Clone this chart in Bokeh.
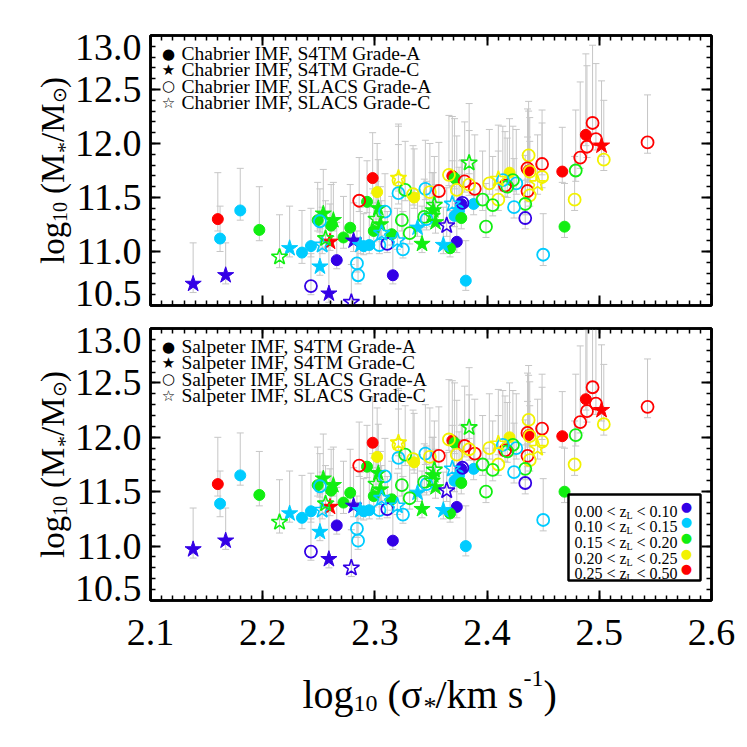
import math
from bokeh.plotting import figure
from bokeh.models import (ColumnDataSource, Range1d, LinearAxis, Label, BoxAnnotation,
                          SingleIntervalTicker, CustomJSTickFormatter)
from bokeh.layouts import column, row
from bokeh.embed import file_html
from bokeh.resources import INLINE

# ---------------- data ----------------
log_sigma = [2.138, 2.167, 2.160, 2.162, 2.180, 2.197, 2.215, 2.224, 2.235, 2.243,
             2.251, 2.243, 2.249, 2.251, 2.254, 2.253, 2.256, 2.263, 2.261, 2.260,
             2.259, 2.266, 2.272, 2.278, 2.279, 2.284, 2.285, 2.281, 2.287, 2.295,
             2.290, 2.298, 2.286, 2.293, 2.302, 2.303, 2.299, 2.301, 2.305, 2.304,
             2.309, 2.306, 2.311, 2.321, 2.321, 2.321, 2.327, 2.334, 2.324, 2.316,
             2.320, 2.315, 2.325, 2.338, 2.342, 2.345, 2.344, 2.346, 2.349, 2.357,
             2.352, 2.354, 2.543, 2.494, 2.488, 2.497, 2.502, 2.489, 2.483, 2.504,
             2.479, 2.467, 2.478, 2.469, 2.450, 2.449, 2.449, 2.445, 2.437, 2.437,
             2.436, 2.438, 2.436, 2.438, 2.434, 2.434, 2.424, 2.426, 2.423, 2.416,
             2.420, 2.418, 2.414, 2.410, 2.402, 2.410, 2.405, 2.396, 2.399, 2.384,
             2.380, 2.389, 2.384, 2.373, 2.369, 2.371, 2.366, 2.378, 2.377, 2.388,
             2.369, 2.371, 2.375, 2.377, 2.364, 2.373, 2.367, 2.361, 2.381, 2.353,
             2.351, 2.335, 2.331]

log_mstar_chabrier = [10.70, 10.78, 11.30, 11.12, 11.38, 11.20, 10.95, 11.03, 10.99, 11.05,
                      10.86, 10.68, 11.29, 11.28, 11.35, 11.06, 11.12, 11.29, 11.24, 11.09,
                      10.61, 10.92, 11.13, 11.22, 10.53, 10.89, 10.78, 11.10, 11.06, 11.06,
                      11.05, 11.68, 11.47, 11.46, 11.55, 11.40, 11.19, 11.30, 11.25, 11.06,
                      11.37, 11.17, 11.07, 11.66, 11.68, 11.54, 11.57, 11.53, 11.29, 10.78,
                      11.10, 11.16, 11.02, 11.22, 11.07, 11.58, 11.32, 11.30, 11.55, 11.56,
                      11.38, 11.27, 12.01, 12.19, 12.08, 12.04, 11.98, 11.97, 11.87, 11.85,
                      11.75, 11.74, 11.48, 11.23, 10.97, 11.81, 11.69, 11.63, 11.89, 11.75,
                      11.77, 11.74, 11.56, 11.52, 11.31, 11.44, 11.41, 11.63, 11.66, 11.61,
                      11.73, 11.60, 11.66, 11.67, 11.63, 11.48, 11.43, 11.48, 11.23, 11.82,
                      11.65, 11.58, 11.62, 11.57, 11.70, 11.68, 11.71, 11.45, 11.44, 11.44,
                      11.44, 11.33, 11.38, 11.31, 11.24, 11.09, 11.03, 11.06, 10.73, 11.43,
                      11.33, 11.50, 11.17]

log_mstar_salpeter = [10.97, 11.05, 11.57, 11.39, 11.65, 11.47, 11.22, 11.30, 11.26, 11.32,
                      11.13, 10.95, 11.56, 11.55, 11.62, 11.33, 11.39, 11.56, 11.51, 11.36,
                      10.88, 11.19, 11.40, 11.49, 10.80, 11.16, 11.05, 11.37, 11.33, 11.33,
                      11.32, 11.95, 11.74, 11.73, 11.82, 11.67, 11.46, 11.57, 11.52, 11.33,
                      11.64, 11.44, 11.34, 11.93, 11.95, 11.81, 11.84, 11.80, 11.56, 11.05,
                      11.37, 11.43, 11.29, 11.49, 11.34, 11.85, 11.59, 11.57, 11.82, 11.83,
                      11.65, 11.54, 12.28, 12.46, 12.35, 12.31, 12.25, 12.24, 12.14, 12.12,
                      12.02, 12.01, 11.75, 11.50, 11.24, 12.08, 11.96, 11.90, 12.16, 12.02,
                      12.04, 12.01, 11.83, 11.79, 11.58, 11.71, 11.68, 11.90, 11.93, 11.88,
                      12.00, 11.87, 11.93, 11.94, 11.90, 11.75, 11.70, 11.75, 11.50, 12.09,
                      11.92, 11.85, 11.89, 11.84, 11.97, 11.95, 11.98, 11.72, 11.71, 11.71,
                      11.71, 11.60, 11.65, 11.58, 11.51, 11.36, 11.30, 11.33, 11.00, 11.70,
                      11.60, 11.77, 11.44]

err_up = [0.38, 0.30, 0.43, 0.30, 0.39, 0.40, 0.39, 0.39, 0.39, 0.35,
          0.35, 0.30, 0.35, 0.30, 0.41, 0.35, 0.35, 0.35, 0.38, 0.35,
          0.45, 0.35, 0.38, 0.40, 0.35, 0.30, 0.35, 0.35, 0.35, 0.35,
          0.30, 0.42, 0.40, 0.38, 0.45, 0.45, 0.35, 0.35, 0.35, 0.35,
          0.35, 0.30, 0.30, 0.50, 0.50, 0.45, 0.45, 0.45, 0.35, 0.35,
          0.30, 0.35, 0.35, 0.35, 0.35, 0.45, 0.35, 0.35, 0.45, 0.45,
          0.35, 0.35, 0.44, 0.72, 0.75, 0.70, 0.60, 0.75, 0.70, 0.55,
          0.56, 0.41, 0.40, 0.40, 0.38, 0.50, 0.50, 0.45, 0.50, 0.55,
          0.55, 0.50, 0.50, 0.50, 0.35, 0.45, 0.45, 0.50, 0.50, 0.50,
          0.50, 0.45, 0.50, 0.50, 0.50, 0.45, 0.45, 0.45, 0.40, 0.55,
          0.55, 0.50, 0.50, 0.50, 0.55, 0.55, 0.55, 0.40, 0.40, 0.40,
          0.40, 0.40, 0.40, 0.40, 0.35, 0.35, 0.35, 0.35, 0.37, 0.45,
          0.40, 0.45, 0.35]

err_down = [0.08, 0.08, 0.11, 0.12, 0.09, 0.10, 0.10, 0.08, 0.10, 0.10,
            0.08, 0.08, 0.10, 0.10, 0.10, 0.08, 0.08, 0.10, 0.10, 0.08,
            0.08, 0.08, 0.10, 0.10, 0.08, 0.08, 0.08, 0.10, 0.08, 0.08,
            0.08, 0.10, 0.10, 0.10, 0.10, 0.10, 0.10, 0.10, 0.10, 0.08,
            0.10, 0.08, 0.08, 0.10, 0.10, 0.10, 0.10, 0.10, 0.10, 0.08,
            0.08, 0.10, 0.08, 0.08, 0.08, 0.10, 0.10, 0.10, 0.10, 0.10,
            0.10, 0.10, 0.10, 0.10, 0.10, 0.10, 0.10, 0.10, 0.10, 0.10,
            0.10, 0.10, 0.10, 0.10, 0.10, 0.10, 0.10, 0.10, 0.10, 0.10,
            0.10, 0.10, 0.10, 0.10, 0.10, 0.10, 0.10, 0.10, 0.10, 0.10,
            0.10, 0.10, 0.10, 0.10, 0.10, 0.10, 0.10, 0.10, 0.10, 0.10,
            0.10, 0.10, 0.10, 0.10, 0.10, 0.10, 0.10, 0.10, 0.10, 0.10,
            0.10, 0.10, 0.10, 0.10, 0.10, 0.10, 0.08, 0.08, 0.09, 0.10,
            0.10, 0.10, 0.10]

# redshift bin index (0..4)
z_bin = [0, 0, 4, 1, 1, 2, 2, 1, 1, 1,
         1, 0, 2, 1, 2, 1, 2, 2, 2, 4,
         0, 0, 2, 2, 0, 1, 1, 0, 1, 1,
         1, 4, 4, 2, 3, 2, 2, 2, 2, 1,
         1, 1, 0, 3, 3, 1, 2, 3, 2, 0,
         1, 2, 1, 1, 2, 1, 2, 1, 3, 4,
         2, 2, 4, 4, 4, 4, 4, 4, 4, 3,
         2, 4, 3, 2, 1, 4, 3, 3, 3, 4,
         4, 3, 4, 3, 0, 2, 1, 1, 2, 4,
         3, 2, 1, 3, 3, 3, 2, 2, 2, 2,
         4, 4, 3, 3, 4, 2, 3, 0, 0, 1,
         1, 1, 1, 2, 0, 0, 2, 1, 1, 2,
         2, 3, 2]

# lens sample: A = S4TM Grade-A, C = S4TM Grade-C, a = SLACS Grade-A, c = SLACS Grade-C
sample = ["C", "C", "A", "A", "A", "A", "c", "C", "A", "A",
          "C", "a", "A", "a", "C", "c", "c", "C", "A", "C",
          "C", "A", "A", "A", "c", "a", "a", "C", "C", "A",
          "A", "A", "a", "A", "A", "C", "A", "c", "C", "a",
          "a", "c", "a", "a", "c", "a", "a", "a", "a", "A",
          "c", "A", "a", "C", "C", "a", "a", "a", "a", "a",
          "C", "C", "a", "a", "A", "a", "C", "a", "a", "a",
          "a", "A", "a", "A", "a", "a", "a", "c", "a", "A",
          "a", "a", "a", "a", "a", "a", "a", "a", "a", "a",
          "A", "a", "a", "c", "a", "a", "a", "a", "a", "c",
          "a", "a", "a", "a", "A", "A", "a", "a", "A", "A",
          "c", "A", "A", "A", "c", "A", "A", "C", "A", "c",
          "c", "A", "a"]

x_ticks = [2.1, 2.2, 2.3, 2.4, 2.5, 2.6]
y_ticks = [10.5, 11.0, 11.5, 12.0, 12.5, 13.0]
x_lim = (2.1, 2.6)
y_lim = (10.5, 13.0)
z_edges = ["0.00", "0.10", "0.15", "0.20", "0.25", "0.50"]
z_colors = ["#3300e6", "#00ccff", "#11ee11", "#f2f200", "#ff0000"]
sample_labels = ["S4TM Grade-A", "S4TM Grade-C", "SLACS Grade-A", "SLACS Grade-C"]
sample_codes = ["A", "C", "a", "c"]
legend_symbols = ["\u25CF", "\u2605", "\u25CB", "\u2606"]

SERIF = "Liberation Serif"
SYMF = "DejaVu Sans"

# ---------------- geometry (pixels) ----------------
FRAME_W = 561
LEFT_W = 142          # width of the left strip holding y labels / titles
P1 = dict(top=35, frame=270, bottom=10)
P2 = dict(top=13, frame=272, bottom=8)
H1 = P1["top"] + P1["frame"] + P1["bottom"]
H2 = P2["top"] + P2["frame"] + P2["bottom"]
PANEL_W = 8 + FRAME_W + 27
XFIG_H = 112


def style_axis(ax):
    ax.major_tick_in = 10
    ax.major_tick_out = 0
    ax.minor_tick_in = 5
    ax.minor_tick_out = 0
    ax.axis_line_width = 2.5
    ax.axis_line_color = "black"
    ax.major_tick_line_width = 2
    ax.minor_tick_line_width = 1.5
    ax.major_tick_line_color = "black"
    ax.minor_tick_line_color = "black"
    ax.major_label_text_font_size = "4px"
    ax.major_label_standoff = 0


def add_text(p, x, y, text, size, font=SERIF, angle=0.0, color="black",
             align="left", baseline="alphabetic"):
    p.add_layout(Label(x=x, y=y, x_units="screen", y_units="screen", text=text,
                       text_font=font, text_font_size=f"{size}px", text_color=color,
                       angle=angle, text_align=align, text_baseline=baseline))


def blank_fig(w, h):
    f = figure(width=w, height=h, x_range=Range1d(0, 1), y_range=Range1d(0, 1),
               output_backend="svg", toolbar_location=None, min_border=0,
               x_axis_type=None, y_axis_type=None)
    f.grid.visible = False
    f.outline_line_color = None
    f.background_fill_color = "white"
    f.border_fill_color = "white"
    return f


def make_panel(mass, imf, geo):
    p = figure(frame_width=FRAME_W, frame_height=geo["frame"],
               x_range=Range1d(*x_lim), y_range=Range1d(*y_lim),
               output_backend="svg", toolbar_location=None,
               min_border_left=8, min_border_right=27,
               min_border_top=geo["top"], min_border_bottom=geo["bottom"],
               x_axis_type=None, y_axis_type=None)
    p.grid.visible = False
    p.outline_line_color = "black"
    p.outline_line_width = 2.5
    p.background_fill_color = "white"
    p.border_fill_color = "white"

    blank = CustomJSTickFormatter(code="return ''")
    for loc in ["below", "above"]:
        ax = LinearAxis(ticker=SingleIntervalTicker(interval=0.1, num_minor_ticks=10),
                        formatter=blank)
        style_axis(ax)
        p.add_layout(ax, loc)
    for loc in ["left", "right"]:
        ax = LinearAxis(ticker=SingleIntervalTicker(interval=0.5, num_minor_ticks=5),
                        formatter=blank)
        style_axis(ax)
        p.add_layout(ax, loc)

    # error bars
    hi = [m + e for m, e in zip(mass, err_up)]
    lo = [m - e for m, e in zip(mass, err_down)]
    esrc = ColumnDataSource(dict(x=log_sigma, hi=hi, lo=lo))
    p.segment(x0="x", y0="lo", x1="x", y1="hi", source=esrc, line_color="#c6c6c6", line_width=1)
    p.scatter(x="x", y="hi", source=esrc, marker="dash", size=7, line_color="#c6c6c6", line_width=1)
    p.scatter(x="x", y="lo", source=esrc, marker="dash", size=7, line_color="#c6c6c6", line_width=1)

    # points per sample
    for code in sample_codes:
        idx = [i for i, s in enumerate(sample) if s == code]
        src = ColumnDataSource(dict(x=[log_sigma[i] for i in idx],
                                    y=[mass[i] for i in idx],
                                    c=[z_colors[z_bin[i]] for i in idx]))
        if code == "A":
            p.scatter(x="x", y="y", source=src, marker="circle", size=11,
                      fill_color="c", line_color="c")
        elif code == "C":
            p.scatter(x="x", y="y", source=src, marker="star", size=17,
                      fill_color="c", line_color="c")
        elif code == "a":
            p.scatter(x="x", y="y", source=src, marker="circle", size=12,
                      fill_color=None, line_color="c", line_width=1.8)
        else:
            p.scatter(x="x", y="y", source=src, marker="star", size=17,
                      fill_color=None, line_color="c", line_width=1.6)

    # sample legend (top-left, inside frame)
    for k, (sym, lab) in enumerate(zip(legend_symbols, sample_labels)):
        yc = geo["frame"] - 18 - 16.4 * k
        add_text(p, 18, yc, sym, 15, font=SYMF, align="center", baseline="middle")
        add_text(p, 31, yc, f"{imf} IMF, {lab}", 19.5, baseline="middle")
    return p


p1 = make_panel(log_mstar_chabrier, "Chabrier", P1)
p2 = make_panel(log_mstar_salpeter, "Salpeter", P2)

# redshift legend box (bottom panel)
p2.add_layout(BoxAnnotation(left=418, right=550, bottom=20, top=106,
                            left_units="screen", right_units="screen",
                            bottom_units="screen", top_units="screen",
                            fill_color="white", fill_alpha=1.0,
                            line_color="black", line_alpha=1.0, line_width=2.5))
for k in range(5):
    yb = 89.3 - 15.6 * k
    add_text(p2, 424, yb, f"{z_edges[k]} < z", 16)
    add_text(p2, 476, yb - 4, "L", 10)
    add_text(p2, 486, yb, f"< {z_edges[k + 1]}", 16)
    add_text(p2, 536, yb + 5, "\u25CF", 13, font=SYMF, color=z_colors[k],
             align="center", baseline="middle")

# ---------------- left strip: y tick labels and y titles ----------------
yfig = blank_fig(LEFT_W, H1 + H2)
FH = H1 + H2
panels_y = [(P1["top"], P1["frame"]), (H1 + P2["top"], P2["frame"])]
for top_px, fh in panels_y:
    for v in y_ticks:
        py = top_px + (y_lim[1] - v) / (y_lim[1] - y_lim[0]) * fh
        if v == y_lim[1]:
            py += 12
        elif v == y_lim[0]:
            py -= 12
        add_text(yfig, 141, FH - py, f"{v:.1f}", 38, align="right", baseline="middle")
    # rotated title log10 (M*/Msun): (text, size, subscript shift, advance, font)
    pieces = [("log", 33, 0, 42, SERIF), ("10", 20, 7, 28, SERIF), ("(M", 33, 0, 41, SERIF),
              ("*", 22, 12, 11, SERIF), ("/M", 33, 0, 39, SERIF), ("\u2299", 19, 6, 15, SYMF),
              (")", 33, 0, 11, SERIF)]
    total = sum(pc[3] for pc in pieces)
    ypos = FH - (top_px + fh / 2) - total / 2
    for txt, sz, dx, w, fnt in pieces:
        add_text(yfig, 52 + dx, ypos, txt, sz, font=fnt, angle=math.pi / 2)
        ypos += w

# ---------------- bottom strip: x tick labels and x title ----------------
xfig = blank_fig(LEFT_W + PANEL_W, XFIG_H)
x0_px = LEFT_W + 8
for v in x_ticks:
    px = x0_px + (v - x_lim[0]) / (x_lim[1] - x_lim[0]) * FRAME_W
    add_text(xfig, px, XFIG_H - 24, f"{v:.1f}", 38, align="center", baseline="middle")

xpieces = [("log", 40, 0, 51), ("10", 24, -9, 34), ("(\u03C3", 40, 0, 36), ("*", 26, -12, 12),
           ("/km s", 40, 0, 88), ("-1", 24, 16, 20), (")", 40, 0, 13)]
xpos = 302
for txt, sz, dy, w in xpieces:
    add_text(xfig, xpos, XFIG_H - 86 + dy, txt, sz)
    xpos += w

layout = column(row(yfig, column(p1, p2)), xfig)
open("out.html", "w").write(file_html(layout, INLINE))
